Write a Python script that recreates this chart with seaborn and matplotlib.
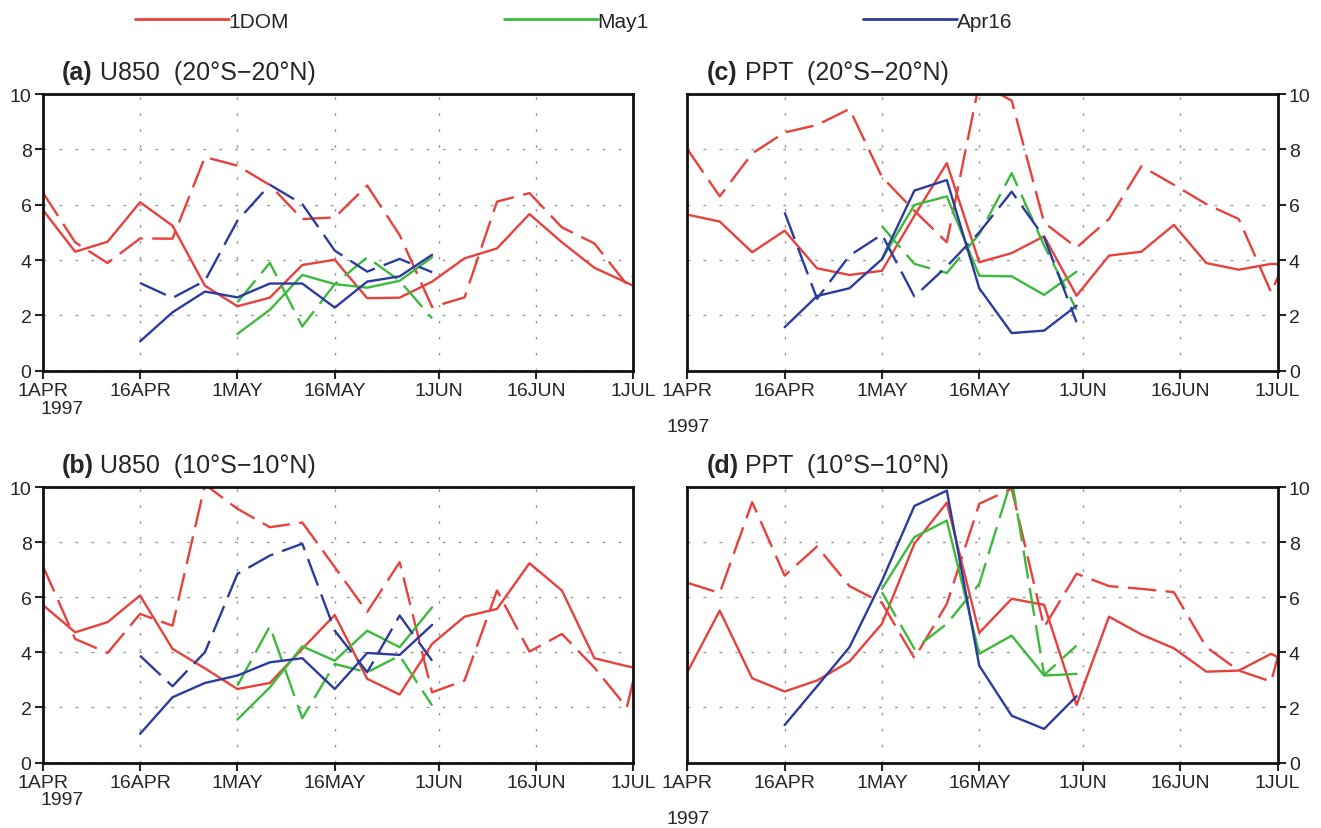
import matplotlib
matplotlib.use('Agg')
import matplotlib.pyplot as plt
from matplotlib.lines import Line2D
import numpy as np
import pandas as pd
import seaborn as sns

# pentad time axis, days after 1 Apr 1997 (last point is 1 Jul)
days = [0, 5, 10, 15, 20, 25, 30, 35, 40, 45, 50, 55, 60, 65, 70, 75, 80, 85, 90, 91]
apr16_days = days[3:13]
may1_days = days[6:13]

tick_days = [0, 15, 30, 45, 61, 76, 91]
tick_labels = ['1APR', '16APR', '1MAY', '16MAY', '1JUN', '16JUN', '1JUL']

runs = ['1DOM', 'May1', 'Apr16']
run_colors = ['#e8413c', '#3cba3c', '#2b3b9e']

# (a) U850 (20S-20N)
a_dom_solid = [5.82, 4.30, 4.66, 6.09, 5.24, 3.07, 2.33, 2.64, 3.82, 4.01, 2.62, 2.64, 3.22, 4.06, 4.42, 5.66, 4.64, 3.72, 3.18, 3.07]
a_dom_dash = [6.45, 4.64, 3.89, 4.78, 4.77, 7.72, 7.41, 6.71, 5.48, 5.54, 6.69, 4.90, 2.30, 2.65, 6.11, 6.42, 5.18, 4.60, 3.12, 3.43]
a_apr_solid = [1.06, 2.11, 2.86, 2.65, 3.15, 3.15, 2.28, 3.22, 3.41, 4.19]
a_apr_dash = [3.17, 2.63, 3.25, 5.42, 6.72, 6.02, 4.34, 3.58, 4.04, 3.56]
a_may_solid = [1.33, 2.20, 3.46, 3.13, 3.00, 3.25, 4.10]
a_may_dash = [2.47, 3.90, 1.60, 3.13, 4.10, 3.25, 1.89]

# (b) U850 (10S-10N)
b_dom_solid = [5.73, 4.73, 5.10, 6.07, 4.13, 3.42, 2.67, 2.89, 4.13, 5.36, 3.04, 2.47, 4.31, 5.30, 5.58, 7.24, 6.25, 3.79, 3.50, 3.46]
b_dom_dash = [7.16, 4.49, 3.98, 5.40, 4.97, 10.1, 9.22, 8.55, 8.72, 7.10, 5.47, 7.28, 2.55, 2.98, 6.25, 4.03, 4.67, 3.45, 2.00, 2.98]
b_apr_solid = [1.04, 2.37, 2.89, 3.16, 3.64, 3.79, 2.67, 3.98, 3.91, 5.00]
b_apr_dash = [3.88, 2.77, 4.01, 6.85, 7.52, 7.95, 4.79, 3.28, 5.34, 3.70]
b_may_solid = [1.56, 2.73, 4.22, 3.70, 4.79, 4.19, 5.64]
b_may_dash = [2.79, 4.95, 1.61, 3.58, 3.28, 3.88, 2.07]

# (c) PPT (20S-20N)
c_dom_solid = [5.64, 5.39, 4.28, 5.06, 3.70, 3.46, 3.61, 5.60, 7.50, 3.92, 4.25, 4.86, 2.71, 4.16, 4.30, 5.27, 3.89, 3.65, 3.86, 3.85]
c_dom_dash = [8.01, 6.30, 7.85, 8.61, 8.88, 9.46, 7.00, 5.78, 4.64, 10.4, 9.76, 5.35, 4.45, 5.48, 7.39, 6.72, 6.02, 5.48, 2.83, 3.37]
c_apr_solid = [1.57, 2.70, 2.98, 4.03, 6.51, 6.89, 2.98, 1.36, 1.45, 2.35]
c_apr_dash = [5.72, 2.60, 4.16, 4.92, 2.68, 3.77, 5.00, 6.47, 4.82, 1.75]
c_may_solid = [4.03, 5.99, 6.30, 3.43, 3.41, 2.74, 3.58]
c_may_dash = [5.22, 3.86, 3.53, 4.94, 7.14, 4.52, 2.20]

# (d) PPT (10S-10N)
d_dom_solid = [3.28, 5.52, 3.06, 2.58, 2.98, 3.67, 5.04, 7.95, 9.44, 4.71, 5.95, 5.73, 2.09, 5.30, 4.65, 4.15, 3.30, 3.34, 3.95, 3.83]
d_dom_dash = [6.53, 6.16, 9.46, 6.79, 7.85, 6.41, 5.80, 3.79, 5.76, 9.40, 9.95, 4.92, 6.86, 6.41, 6.31, 6.19, 4.19, 3.34, 2.94, 3.83]
d_apr_solid = [1.36, 2.77, 4.19, 6.60, 9.32, 9.88, 3.52, 1.70, 1.22, 2.41]
d_apr_dash = []
d_may_solid = [6.31, 8.19, 8.79, 3.95, 4.61, 3.16, 3.22]
d_may_dash = [6.19, 4.13, 5.04, 6.49, 10.3, 3.18, 4.25]


def make_frame(dom_s, dom_d, apr_s, apr_d, may_s, may_d):
    parts = []
    for run, xs, vals, kind in [('1DOM', days, dom_s, 'solid'), ('1DOM', days, dom_d, 'dashed'),
                                ('Apr16', apr16_days, apr_s, 'solid'), ('Apr16', apr16_days, apr_d, 'dashed'),
                                ('May1', may1_days, may_s, 'solid'), ('May1', may1_days, may_d, 'dashed')]:
        if len(vals) == 0:
            continue
        parts.append(pd.DataFrame({'day': xs, 'value': vals, 'run': run, 'kind': kind}))
    return pd.concat(parts, ignore_index=True)


sns.set_style('white')
plt.rcParams['font.family'] = ['Liberation Sans', 'DejaVu Sans']

fig = plt.figure(figsize=(13.21, 8.29), dpi=100)

W, H = 1321.0, 829.0
boxes = {'a': (42.7, 95, 633.3, 371.7), 'b': (42.7, 488.3, 633.3, 763.5),
         'c': (687.3, 95, 1277.7, 371.7), 'd': (687.3, 488.3, 1277.7, 763.5)}

panels = [('a', 'U850  (20°S−20°N)', make_frame(a_dom_solid, a_dom_dash, a_apr_solid, a_apr_dash, a_may_solid, a_may_dash), 'left'),
          ('b', 'U850  (10°S−10°N)', make_frame(b_dom_solid, b_dom_dash, b_apr_solid, b_apr_dash, b_may_solid, b_may_dash), 'left'),
          ('c', 'PPT  (20°S−20°N)', make_frame(c_dom_solid, c_dom_dash, c_apr_solid, c_apr_dash, c_may_solid, c_may_dash), 'right'),
          ('d', 'PPT  (10°S−10°N)', make_frame(d_dom_solid, d_dom_dash, d_apr_solid, d_apr_dash, d_may_solid, d_may_dash), 'right')]

for key, title, df, side in panels:
    x0, y0, x1, y1 = boxes[key]
    ax = fig.add_axes([x0 / W, 1 - y1 / H, (x1 - x0) / W, (y1 - y0) / H])
    sns.lineplot(data=df, x='day', y='value', hue='run', style='kind',
                 hue_order=runs, palette=run_colors, style_order=['solid', 'dashed'],
                 dashes={'solid': '', 'dashed': (12, 4)},
                 estimator=None, errorbar=None, sort=False, legend=False,
                 lw=1.7, ax=ax)
    ax.set_xlim(0, 91)
    ax.set_ylim(0, 10)
    ax.set_xticks(tick_days)
    ax.set_xticklabels(tick_labels, fontsize=14)
    ax.set_yticks(np.arange(0, 11, 2))
    ax.set_xlabel('')
    ax.set_ylabel('')
    ax.grid(True, color='#9a9a9a', lw=1.0, linestyle=(0, (2, 9.5)))
    for sp in ax.spines.values():
        sp.set_linewidth(2.0)
        sp.set_color('#111111')
    ax.tick_params(axis='x', direction='out', length=6, width=1.5, pad=2, bottom=True)
    if side == 'left':
        ax.tick_params(axis='y', direction='out', length=6, width=1.5, labelsize=14, left=True, pad=2)
    else:
        ax.yaxis.tick_right()
        ax.tick_params(axis='y', direction='out', length=6, width=1.5, labelsize=14, right=True, pad=2)
    ax.text(0.033, 1.055, '(' + key + ')', transform=ax.transAxes, fontsize=18, fontweight='bold', va='baseline')
    ax.text(0.097, 1.055, title, transform=ax.transAxes, fontsize=18, va='baseline')

# year labels under the first tick
fig.text(40 / W, 1 - 410 / H, '1997', fontsize=14, va='center', ha='left')
fig.text(40 / W, 1 - 801 / H, '1997', fontsize=14, va='center', ha='left')
fig.text(688 / W, 1 - 428 / H, '1997', fontsize=14, va='center', ha='center')
fig.text(688 / W, 1 - 820 / H, '1997', fontsize=14, va='center', ha='center')

handles = [Line2D([], [], color=c, lw=2) for c in run_colors]
fig.legend(handles, runs, loc='center left', bbox_to_anchor=(135 / W, 1 - 22 / H), ncol=3,
           frameon=False, handlelength=4.5, handletextpad=0.0, columnspacing=10.3,
           fontsize=15, borderpad=0, borderaxespad=0)

plt.savefig('out.png', dpi=100)
